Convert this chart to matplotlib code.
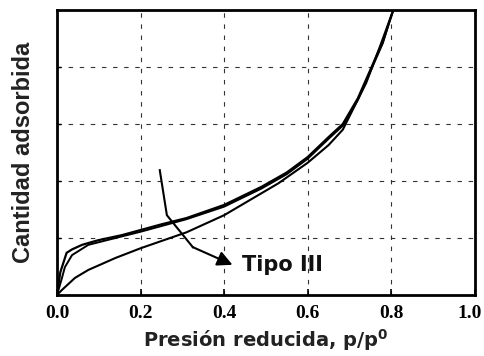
import matplotlib
matplotlib.use("Agg")
import matplotlib.pyplot as plt
import matplotlib.transforms as mtransforms

# Data
upper_x = [0, 0.008, 0.023, 0.036, 0.06, 0.098, 0.155, 0.2, 0.25, 0.31, 0.40, 0.49, 0.55, 0.60, 0.65, 0.684, 0.72, 0.753, 0.78, 0.805]
upper_y = [0, 0.40, 0.74, 0.80, 0.88, 0.96, 1.05, 1.14, 1.24, 1.35, 1.58, 1.90, 2.15, 2.42, 2.77, 3.00, 3.45, 4.00, 4.45, 5.00]

middle_x = [0, 0.010, 0.019, 0.036, 0.075, 0.14, 0.2, 0.25, 0.31, 0.40, 0.49, 0.55, 0.60, 0.65, 0.684, 0.72, 0.753, 0.78, 0.80]
middle_y = [0, 0.25, 0.49, 0.70, 0.88, 1.00, 1.11, 1.21, 1.33, 1.55, 1.87, 2.12, 2.39, 2.74, 2.97, 3.42, 3.97, 4.42, 4.90]

lower_x = [0, 0.012, 0.043, 0.075, 0.14, 0.2, 0.31, 0.40, 0.53, 0.60, 0.65, 0.684, 0.74, 0.77, 0.805]
lower_y = [0, 0.09, 0.30, 0.44, 0.65, 0.82, 1.10, 1.40, 1.96, 2.32, 2.63, 2.90, 3.72, 4.30, 5.00]

arrow_x = [0.246, 0.263, 0.325]
arrow_y = [2.19, 1.40, 0.84]
arrow_tip = (0.42, 0.53)

xticks = [0.0, 0.2, 0.4, 0.6, 0.8, 1.0]
xtick_labels = ["0.0", "0.2", "0.4", "0.6", "0.8", "1.0"]
ygrid = [1, 2, 3, 4]

fig = plt.figure(figsize=(4.85, 3.56), dpi=100)
ax = fig.add_axes([0.1175, 0.1713, 0.8615, 0.8007])

ax.plot(upper_x, upper_y, color="black", lw=1.6, solid_joinstyle="round")
ax.plot(middle_x, middle_y, color="black", lw=1.4, solid_joinstyle="round")
ax.plot(lower_x, lower_y, color="black", lw=1.5, solid_joinstyle="round")

ax.plot(arrow_x, arrow_y, color="black", lw=1.5)
ax.annotate("", xy=arrow_tip, xytext=(arrow_x[-1], arrow_y[-1]),
            arrowprops=dict(arrowstyle="-|>,head_length=0.9,head_width=0.45",
                            color="black", lw=1.5, shrinkA=0, shrinkB=0))
ax.text(0.443, 0.53, "Tipo III", fontsize=15, fontweight="bold",
        ha="left", va="center", family="DejaVu Sans", color="#111111")

ax.set_xlim(0, 1.0)
ax.set_ylim(0, 5)
ax.set_xticks(xticks)
ax.set_xticklabels(xtick_labels, family="Liberation Serif", fontweight="bold", fontsize=14)
ax.set_yticks(ygrid)
ax.set_yticklabels([])
ax.tick_params(axis="x", direction="in", length=4, width=1.2, pad=7)
ax.tick_params(axis="y", direction="in", length=3, width=1.0)

# nudge the last tick label so it stays inside the figure
last = ax.get_xticklabels()[-1]
last.set_transform(last.get_transform() +
                   mtransforms.ScaledTranslation(-5 / 100, 0, fig.dpi_scale_trans))

for v in [0.2, 0.4, 0.6, 0.8]:
    ax.axvline(v, color="#333333", lw=0.8, ls=(0, (4, 6)), zorder=0)
for h in ygrid:
    ax.axhline(h, color="#333333", lw=0.8, ls=(0, (4, 6)), zorder=0)

for s in ax.spines.values():
    s.set_linewidth(2)

ax.set_xlabel("Presión reducida, p/p$^{\\mathregular{0}}$", fontsize=14, fontweight="bold",
              color="#222222", labelpad=4, family="DejaVu Sans")
ax.set_ylabel("Cantidad adsorbida", fontsize=17, fontweight="bold", color="#222222",
              labelpad=12, family="Liberation Sans")

fig.savefig("out.png", dpi=100)
